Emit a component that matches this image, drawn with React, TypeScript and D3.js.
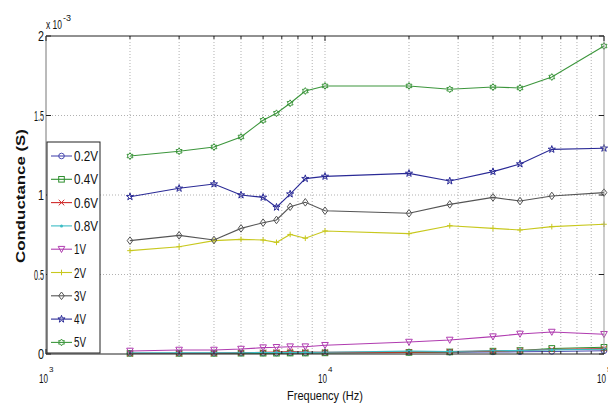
import React from "react";
import * as d3 from "d3";

// Measurement frequencies (Hz)
const freqs = [2000, 3000, 4000, 5000, 6000, 6700, 7500, 8500, 10000, 20000, 28000, 40000, 50000, 65000, 100000];

// Conductance values, in units of 1e-3 S
const g02 = [0.005, 0.005, 0.005, 0.006, 0.006, 0.006, 0.007, 0.007, 0.008, 0.010, 0.011, 0.013, 0.014, 0.016, 0.020];
const g04 = [0.004, 0.004, 0.004, 0.005, 0.005, 0.005, 0.006, 0.006, 0.007, 0.010, 0.013, 0.018, 0.022, 0.035, 0.042];
const g06 = [0.003, 0.003, 0.004, 0.008, 0.010, 0.012, 0.015, 0.012, 0.010, 0.012, 0.015, 0.018, 0.022, 0.028, 0.034];
const g08 = [0.006, 0.007, 0.007, 0.008, 0.009, 0.009, 0.010, 0.010, 0.011, 0.018, 0.016, 0.020, 0.022, 0.026, 0.030];
const g1 = [0.019, 0.025, 0.025, 0.031, 0.040, 0.042, 0.046, 0.046, 0.055, 0.075, 0.088, 0.109, 0.126, 0.138, 0.124];
const g2 = [0.650, 0.675, 0.713, 0.721, 0.717, 0.702, 0.752, 0.728, 0.774, 0.757, 0.807, 0.790, 0.780, 0.801, 0.816];
const g3 = [0.713, 0.746, 0.717, 0.790, 0.826, 0.843, 0.926, 0.954, 0.901, 0.885, 0.941, 0.985, 0.962, 0.994, 1.015];
const g4 = [0.989, 1.042, 1.069, 1.000, 0.985, 0.923, 1.006, 1.103, 1.117, 1.136, 1.088, 1.147, 1.195, 1.287, 1.294];
const g5 = [1.245, 1.275, 1.302, 1.365, 1.470, 1.514, 1.577, 1.654, 1.686, 1.686, 1.665, 1.679, 1.673, 1.742, 1.937];

const seriesNames = ["0.2V", "0.4V", "0.6V", "0.8V", "1V", "2V", "3V", "4V", "5V"];
const seriesValues = [g02, g04, g06, g08, g1, g2, g3, g4, g5];
const seriesColors = ["#4b4bb0", "#2f8f2f", "#d02a2a", "#3cbcc4", "#b03cb0", "#c8c81e", "#555555", "#2a2a96", "#3c963c"];
const seriesMarkers = ["circle", "square", "x", "dot", "triangleDown", "plus", "diamond", "star", "hexagram"];

const yTicks = [0, 0.5, 1, 1.5, 2];
const yTickLabels = ["0", "0.5", "1", "1.5", "2"];
const xMajor = [1000, 10000, 100000];
const xMajorExp = ["3", "4", "5"];

const W = 608;
const H = 403;
const left = 46;
const right = 604;
const top = 36;
const bottom = 354;

const x = d3.scaleLog().domain([1000, 100000]).range([left, right]);
const y = d3.scaleLinear().domain([0, 2]).range([bottom, top]);

const minorTicks: number[] = [];
for (const dec of [1000, 10000]) {
  for (let k = 2; k <= 9; k++) minorTicks.push(dec * k);
}

function Marker({ kind, cx, cy, color }: { kind: string; cx: number; cy: number; color: string }) {
  const s = 2.8;
  switch (kind) {
    case "circle":
      return <circle cx={cx} cy={cy} r={2.8} fill="none" stroke={color} strokeWidth={1} />;
    case "square":
      return <rect x={cx - s} y={cy - s} width={2 * s} height={2 * s} fill="none" stroke={color} strokeWidth={1} />;
    case "x":
      return <path d={`M${cx - s},${cy - s}L${cx + s},${cy + s}M${cx - s},${cy + s}L${cx + s},${cy - s}`} stroke={color} strokeWidth={1} />;
    case "dot":
      return <circle cx={cx} cy={cy} r={1.5} fill={color} />;
    case "triangleDown":
      return <path d={`M${cx - 3.3},${cy - 2.8}L${cx + 3.3},${cy - 2.8}L${cx},${cy + 3.3}Z`} fill="none" stroke={color} strokeWidth={1} />;
    case "plus":
      return <path d={`M${cx - s},${cy}L${cx + s},${cy}M${cx},${cy - s}L${cx},${cy + s}`} stroke={color} strokeWidth={1} />;
    case "diamond":
      return <path d={`M${cx},${cy - 3.8}L${cx + 2.8},${cy}L${cx},${cy + 3.8}L${cx - 2.8},${cy}Z`} fill="none" stroke={color} strokeWidth={1} />;
    case "star": {
      const p = d3.symbol().type(d3.symbolStar).size(16)();
      return <path d={p || ""} transform={`translate(${cx},${cy})`} fill="none" stroke={color} strokeWidth={1} />;
    }
    case "hexagram": {
      const pts: string[] = [];
      for (let i = 0; i < 12; i++) {
        const a = (Math.PI / 6) * i - Math.PI / 2;
        const r = i % 2 === 0 ? 3.4 : 2;
        pts.push(`${cx + r * Math.cos(a)},${cy + r * Math.sin(a)}`);
      }
      return <path d={`M${pts.join("L")}Z`} fill="none" stroke={color} strokeWidth={1} />;
    }
    default:
      return null;
  }
}

export default function App() {
  const line = d3
    .line<number>()
    .x((_, i) => x(freqs[i]))
    .y((v) => y(v));

  const legendX = 47;
  const legendY = 142;
  const legendW = 53;
  const legendH = 211;
  const rowStart = 156;
  const rowStep = 23.3;

  const font = "Liberation Sans, Arial, sans-serif";

  return (
    <svg width={W} height={H} style={{ position: "absolute", left: 0, top: 0, background: "#fff" }} fontFamily={font}>
      <rect x={0} y={0} width={W} height={H} fill="#fff" />
      {/* grid */}
      <g stroke="#a8a8a8" strokeWidth={0.9} strokeDasharray="1,2">
        {[...minorTicks, 10000].map((f) => (
          <line key={`gx${f}`} x1={x(f)} x2={x(f)} y1={top} y2={bottom} />
        ))}
        {yTicks.slice(1, -1).map((v) => (
          <line key={`gy${v}`} x1={left} x2={right} y1={y(v)} y2={y(v)} />
        ))}
      </g>

      {/* series lines */}
      {seriesValues.map((vals, si) => (
        <g key={seriesNames[si]}>
          <path d={line(vals) || ""} fill="none" stroke={seriesColors[si]} strokeWidth={1.1} />
          {vals.map((v, i) => (
            <Marker key={i} kind={seriesMarkers[si]} cx={x(freqs[i])} cy={y(v)} color={seriesColors[si]} />
          ))}
        </g>
      ))}

      {/* axes box */}
      <g stroke="#222" strokeWidth={1} fill="none">
        <line x1={left} x2={right} y1={top} y2={top} />
        <line x1={left} x2={right} y1={bottom} y2={bottom} />
        <line x1={left} x2={left} y1={top} y2={bottom} stroke="#777" />
        <line x1={right} x2={right} y1={top} y2={bottom} stroke="#999" />
        {yTicks.map((v) => (
          <g key={`ty${v}`}>
            <line x1={left} x2={left + 5} y1={y(v)} y2={y(v)} />
            <line x1={right} x2={right - 5} y1={y(v)} y2={y(v)} />
          </g>
        ))}
        {xMajor.map((f) => (
          <g key={`tx${f}`}>
            <line x1={x(f)} x2={x(f)} y1={bottom} y2={bottom - 5} />
            <line x1={x(f)} x2={x(f)} y1={top} y2={top + 5} />
          </g>
        ))}
        {minorTicks.map((f) => (
          <g key={`mx${f}`}>
            <line x1={x(f)} x2={x(f)} y1={bottom} y2={bottom - 3} />
            <line x1={x(f)} x2={x(f)} y1={top} y2={top + 3} />
          </g>
        ))}
      </g>

      {/* y tick labels */}
      <g fontSize={14} fill="#111" textAnchor="end">
        {yTicks.map((v, i) => (
          <text
            key={`yl${v}`}
            x={44}
            y={y(v) + 5}
            textLength={yTickLabels[i].length > 1 ? 10 : 6}
            lengthAdjust="spacingAndGlyphs"
          >
            {yTickLabels[i]}
          </text>
        ))}
      </g>
      {/* exponent label */}
      <text x={46} y={29} fontSize={12} fill="#111">
        <tspan textLength={16} lengthAdjust="spacingAndGlyphs">x 10</tspan>
        <tspan dx={1} dy={-8} fontSize={9}>-3</tspan>
      </text>

      {/* x tick labels */}
      <g fontSize={13} fill="#111">
        {xMajor.map((f, i) => (
          <text key={`xl${f}`} x={x(f) - 7} y={383}>
            <tspan textLength={9} lengthAdjust="spacingAndGlyphs">10</tspan>
            <tspan dx={1} dy={-11} fontSize={8}>{xMajorExp[i]}</tspan>
          </text>
        ))}
      </g>

      {/* axis titles */}
      <text x={325} y={400} fontSize={13} textAnchor="middle" fill="#111" textLength={76} lengthAdjust="spacingAndGlyphs">
        Frequency (Hz)
      </text>
      <text
        transform={`translate(25,196) rotate(-90)`}
        fontSize={13}
        fontWeight="bold"
        textAnchor="middle"
        fill="#111"
        textLength={134}
        lengthAdjust="spacingAndGlyphs"
      >
        Conductance (S)
      </text>

      {/* legend */}
      <g>
        <rect x={legendX} y={legendY} width={legendW} height={legendH} fill="#fff" stroke="#222" strokeWidth={1} />
        {seriesNames.map((name, i) => {
          const ry = rowStart + i * rowStep;
          return (
            <g key={`lg${name}`}>
              <line x1={51} x2={72} y1={ry} y2={ry} stroke={seriesColors[i]} strokeWidth={1.1} />
              <Marker kind={seriesMarkers[i]} cx={61.5} cy={ry} color={seriesColors[i]} />
              <text x={74} y={ry + 5} fontSize={14} fill="#111" textLength={name.length * 6} lengthAdjust="spacingAndGlyphs">
                {name}
              </text>
            </g>
          );
        })}
      </g>
    </svg>
  );
}
